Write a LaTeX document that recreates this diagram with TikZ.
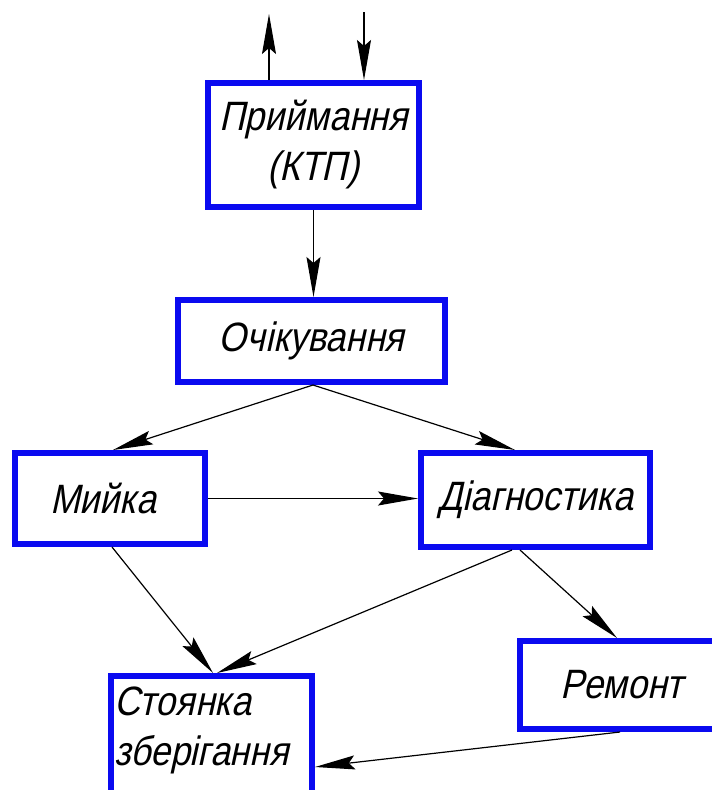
\documentclass[tikz,border=0pt]{standalone}
\usepackage{fontspec}
\newfontfamily\gost[FakeStretch=0.87,FakeSlant=0.22]{Liberation Sans}
\usetikzlibrary{arrows.meta,calc}
\definecolor{boxblue}{RGB}{10,10,240}
\tikzset{gosttip/.tip={Stealth[length=40pt,width=14pt,inset=6pt]}}
\begin{document}
\begin{tikzpicture}[x=1pt,y=-1pt,
  box/.style={draw=boxblue, line width=6pt, inner sep=0pt, fill=white,
    font=\gost\fontsize{41}{50}\selectfont, align=center},
  txt/.style={inner sep=0pt, font=\gost\fontsize{41}{50}\selectfont, align=left},
  conn/.style={line width=1.2pt, -gosttip}]
\path[use as bounding box] (0,0) rectangle (712,790);
\clip (0,0) rectangle (712,790);

\node[box, minimum width=211pt, minimum height=124pt] (b1) at (313.5,145) {Приймання\\(КТП)};
\node[box, minimum width=267pt, minimum height=82pt] (b2) at (311.5,341) {Очікування};
\node[box, minimum width=190pt, minimum height=91pt] (b3) at (110,498.5) {\hspace*{-14pt}Мийка};
\node[box, minimum width=229pt, minimum height=94pt] (b4) at (535.5,500) {Діагностика};
\node[box, minimum width=201pt, minimum height=134pt] (b5) at (211.5,743) {};
\node[txt, anchor=north west] (b5t) at ([xshift=6pt,yshift=-14pt]b5.north west) {Стоянка\\зберігання};
\node[box, minimum width=204pt, minimum height=88pt] (b6) at (622,685) {Ремонт};

\coordinate (tl) at (269,14);
\coordinate (tr) at (364,12);

\draw[conn] ([xshift=-44.5pt]b1.north) -- (tl);
\draw[conn] (tr) -- (tr |- b1.north);
\draw[conn] (b1.south) -- (b1.south |- b2.north);
\draw[conn] ([xshift=1.5pt]b2.south) -- ([xshift=3pt]b3.north);
\draw[conn] ([xshift=1.5pt]b2.south) -- ([xshift=-20.5pt]b4.north);
\draw[conn] (b3.east) -- (b3.east -| b4.west);
\draw[conn] ([xshift=2pt]b3.south) -- ([xshift=1.5pt]b5.north);
\draw[conn] ([xshift=-23.5pt]b4.south) -- ([xshift=5.5pt]b5.north);
\draw[conn] ([xshift=-15.5pt]b4.south) -- ([xshift=-5pt]b6.north);
\draw[conn] ([xshift=-2pt]b6.south) -- ([yshift=-24pt]b5.east);
\end{tikzpicture}
\end{document}
